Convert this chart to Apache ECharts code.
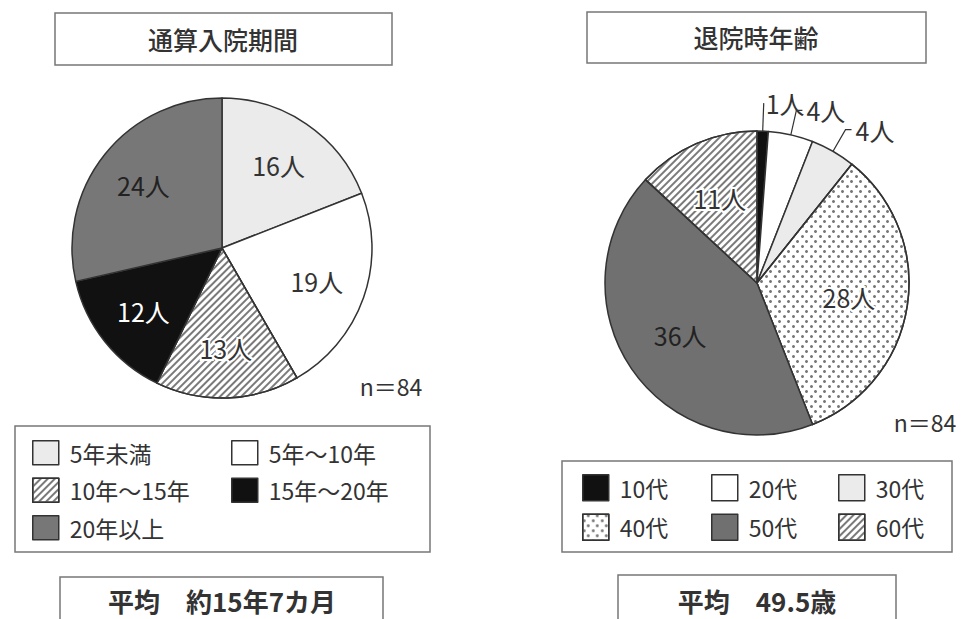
<!DOCTYPE html>
<html><head><meta charset="utf-8">
<script src="https://cdn.jsdelivr.net/npm/echarts@6/dist/echarts.min.js"></script>
<style>html,body{margin:0;padding:0;background:#fff}#c{width:963px;height:619px}</style>
</head><body><div id="c"></div>
<script>
// ---- data ----
const stayCategories = ['5年未満', '5年〜10年', '10年〜15年', '15年〜20年', '20年以上'];
const stayValues = [16, 19, 13, 12, 24];
const ageCategories = ['10代', '20代', '30代', '40代', '50代', '60代'];
const ageValues = [1, 4, 4, 28, 36, 11];
const labelUnit = '人';
const stayTitle = '通算入院期間';
const ageTitle = '退院時年齢';
const sampleNote = 'n＝84';
const stayAverage = '平均　約15年7カ月';
const ageAverage = '平均　49.5歳';

// ---- styles ----
const FONT = '"Noto Sans CJK JP", "Noto Sans", sans-serif';
const TXT = '#333';
const EDGE = '#333';
const BOX = '#777';
const hatch = { symbol: 'rect', symbolSize: 1, dashArrayX: [1, 0], dashArrayY: [2, 3], rotation: -Math.PI / 4, color: '#7a7a7a', backgroundColor: '#fff' };
const dots = { symbol: 'circle', symbolSize: 1, dashArrayX: [[2.4, 5.6], [0, 4, 2.4, 1.6]], dashArrayY: [2.4, 1.6], color: '#777', backgroundColor: '#fff' };
const stayStyles = [{ color: '#ebebeb' }, { color: '#ffffff' }, { color: '#ffffff', decal: hatch }, { color: '#111111' }, { color: '#777777' }];
const ageStyles = [{ color: '#111111' }, { color: '#ffffff' }, { color: '#ebebeb' }, { color: '#ffffff', decal: dots }, { color: '#707070' }, { color: '#ffffff', decal: hatch }];
const stayLabelColors = [TXT, TXT, TXT, '#ffffff', '#222'];
const ageLabelColors = [TXT, TXT, TXT, TXT, '#222', TXT];

const LC = [222, 248], LR = 150;
const RC = [757, 283], RR = 152;

const baseLabel = { fontSize: 25, fontFamily: FONT, rotate: 0 };
function fmt(p) { return p.value + labelUnit; }

const leftMain = {
  type: 'pie', center: LC, radius: LR, startAngle: 90, clockwise: true, avoidLabelOverlap: false,
  label: { show: false }, labelLine: { show: false }, emphasis: { disabled: true },
  itemStyle: { borderColor: EDGE, borderWidth: 1.5 },
  data: stayCategories.map((n, i) => ({ name: n, value: stayValues[i], itemStyle: stayStyles[i] }))
};
const leftLabels = {
  type: 'pie', center: LC, radius: LR * 1.3, startAngle: 90, clockwise: true, silent: true, avoidLabelOverlap: false,
  itemStyle: { color: 'rgba(0,0,0,0)', borderWidth: 0 }, labelLine: { show: false }, emphasis: { disabled: true },
  label: Object.assign({ show: true, position: 'inside', formatter: fmt }, baseLabel),
  data: stayCategories.map((n, i) => ({ name: n, value: stayValues[i],
    label: { color: stayLabelColors[i], textBorderColor: i === 2 ? '#fff' : 'transparent', textBorderWidth: i === 2 ? 4 : 0 } }))
};
const rightMain = {
  type: 'pie', center: RC, radius: RR, startAngle: 90, clockwise: true, avoidLabelOverlap: false,
  label: { show: false }, labelLine: { show: false }, emphasis: { disabled: true },
  itemStyle: { borderColor: EDGE, borderWidth: 1.5 },
  data: ageCategories.map((n, i) => {
    const d = { name: n, value: ageValues[i], itemStyle: ageStyles[i] };
    if (i === 0) {
      d.label = Object.assign({ show: true, position: 'outside', formatter: fmt, color: TXT, distanceToLabelLine: 2 }, baseLabel);
      d.labelLine = { show: true, length: 28, length2: 0, lineStyle: { color: '#333', width: 1.2 } };
    }
    return d;
  })
};
const rightOuterLabels = {
  type: 'pie', center: RC, radius: 131, startAngle: 90, clockwise: true, silent: true, avoidLabelOverlap: false,
  itemStyle: { color: 'rgba(0,0,0,0)', borderWidth: 0 }, emphasis: { disabled: true },
  label: { show: false }, labelLine: { show: false },
  data: ageCategories.map((n, i) => {
    const d = { name: n, value: ageValues[i] };
    if (i === 1 || i === 2) {
      d.label = Object.assign({ show: true, position: 'outside', formatter: fmt, color: TXT, distanceToLabelLine: 4 }, baseLabel);
      d.labelLine = { show: true, length: 46, length2: 6, smooth: false, lineStyle: { color: '#333', width: 1.2 } };
    }
    return d;
  })
};
const rightInnerLabels = {
  type: 'pie', center: RC, radius: 180, startAngle: 90, clockwise: true, silent: true, avoidLabelOverlap: false,
  itemStyle: { color: 'rgba(0,0,0,0)', borderWidth: 0 }, emphasis: { disabled: true }, labelLine: { show: false },
  label: Object.assign({ show: false, position: 'inside', formatter: fmt }, baseLabel),
  data: ageCategories.map((n, i) => ({ name: n, value: ageValues[i],
    label: { show: i >= 3, color: ageLabelColors[i], textBorderColor: (i === 3 || i === 5) ? '#fff' : 'transparent', textBorderWidth: (i === 3 || i === 5) ? 4 : 0 } }))
};

const legendBase = {
  orient: 'vertical', icon: 'rect', selectedMode: false, itemGap: 12,
  textStyle: { fontSize: 23, lineHeight: 25, fontFamily: FONT, color: TXT, padding: [0, 0, 0, 6] },
  itemStyle: { borderColor: EDGE, borderWidth: 1.5 }
};
function legend(ext) { return Object.assign({}, legendBase, ext); }

const option = {
  animation: false,
  backgroundColor: '#fff',
  legend: [
    legend({ left: 27, top: 435, itemWidth: 26, itemHeight: 24, data: [stayCategories[0], stayCategories[2], stayCategories[4]] }),
    legend({ left: 226, top: 435, itemWidth: 26, itemHeight: 24, data: [stayCategories[1], stayCategories[3]] }),
    legend({ left: 577, top: 469, itemWidth: 26, itemHeight: 26, itemGap: 12, data: [ageCategories[0], ageCategories[3]] }),
    legend({ left: 706, top: 469, itemWidth: 26, itemHeight: 26, itemGap: 12, data: [ageCategories[1], ageCategories[4]] }),
    legend({ left: 833, top: 469, itemWidth: 26, itemHeight: 26, itemGap: 12, data: [ageCategories[2], ageCategories[5]] })
  ],
  graphic: [
    { type: 'rect', z: -1, shape: { x: 55, y: 13, width: 337, height: 52 }, style: { fill: '#fff', stroke: BOX, lineWidth: 1.5 } },
    { type: 'text', x: 223, y: 39, style: { text: stayTitle, font: '500 25px ' + FONT, fill: TXT, align: 'center', verticalAlign: 'middle' } },
    { type: 'rect', z: -1, shape: { x: 587, y: 12, width: 339, height: 51 }, style: { fill: '#fff', stroke: BOX, lineWidth: 1.5 } },
    { type: 'text', x: 756, y: 37, style: { text: ageTitle, font: '500 25px ' + FONT, fill: TXT, align: 'center', verticalAlign: 'middle' } },
    { type: 'text', x: 391, y: 386, style: { text: sampleNote, font: '23px ' + FONT, fill: TXT, align: 'center', verticalAlign: 'middle' } },
    { type: 'text', x: 925, y: 422, style: { text: sampleNote, font: '23px ' + FONT, fill: TXT, align: 'center', verticalAlign: 'middle' } },
    { type: 'rect', z: -1, shape: { x: 15, y: 426, width: 415, height: 126 }, style: { fill: '#fff', stroke: BOX, lineWidth: 1.5 } },
    { type: 'rect', z: -1, shape: { x: 562, y: 461, width: 390, height: 91 }, style: { fill: '#fff', stroke: BOX, lineWidth: 1.5 } },
    { type: 'rect', z: -1, shape: { x: 60, y: 577, width: 323, height: 60 }, style: { fill: '#fff', stroke: BOX, lineWidth: 1.5 } },
    { type: 'text', x: 222, y: 600, style: { text: stayAverage, font: 'bold 26px ' + FONT, fill: TXT, align: 'center', verticalAlign: 'middle' } },
    { type: 'rect', z: -1, shape: { x: 618, y: 575, width: 278, height: 60 }, style: { fill: '#fff', stroke: BOX, lineWidth: 1.5 } },
    { type: 'text', x: 757, y: 600, style: { text: ageAverage, font: 'bold 26px ' + FONT, fill: TXT, align: 'center', verticalAlign: 'middle' } }
  ],
  series: [leftMain, leftLabels, rightMain, rightOuterLabels, rightInnerLabels]
};

const chart = echarts.init(document.getElementById('c'), null, { renderer: 'svg' });
chart.setOption(option);
</script>
</body></html>
